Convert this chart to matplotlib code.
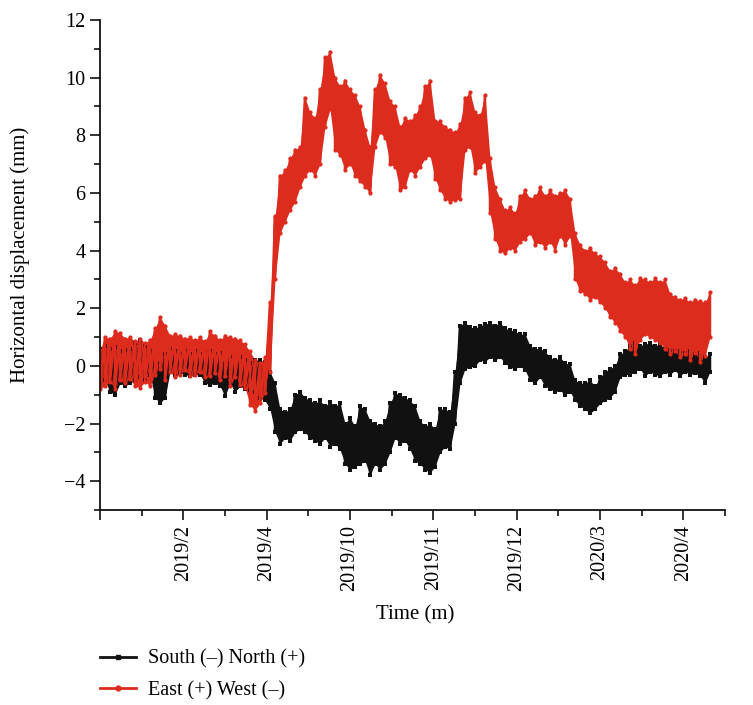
import numpy as np
import matplotlib
matplotlib.use("Agg")
import matplotlib.pyplot as plt
from matplotlib.lines import Line2D
from matplotlib.ticker import MultipleLocator

plt.rcParams['font.family'] = ['Liberation Serif', 'DejaVu Serif']

# Month axis: one unit per labelled month tick
tick_positions = [0, 1, 2, 3, 4, 5, 6, 7]
tick_labels = ['', '2019/2', '2019/4', '2019/10', '2019/11', '2019/12', '2020/3', '2020/4']

# Daily readings (upper / lower of each day's swing), mm
sn_high = [0.6, 0.7, 0.6, 0.65, 0.5, 0.55, 0.6, 0.8, 0.9, 0.7, 0.5, 0.2, 0.1, 0.4, 0.6, 0.5,
           0.4, 0.5, 0.4, 0.5, 0.4, 0.45, 0.5, 0.4, 0.45, 0.1, 0.3, 0.2, 0.3, 0.2, 0.1, 0.2,
           0.2, 0.15, -0.2, -0.6, -1.5, -1.6, -1.5, -1.0, -0.9, -1.1, -1.2, -1.3, -1.2, -1.4,
           -1.25, -1.4, -1.3, -2.0, -1.8, -2.1, -1.4, -1.5, -1.9, -2.0, -2.1, -1.9, -1.3, -0.95,
           -1.0, -1.1, -1.2, -1.4, -1.9, -2.1, -2.0, -2.2, -1.5, -1.5, -1.6, -0.2, 1.4, 1.5,
           1.35, 1.3, 1.4, 1.45, 1.5, 1.4, 1.5, 1.3, 1.25, 1.2, 1.1, 1.1, 0.7, 0.6, 0.6, 0.5,
           0.3, 0.2, 0.3, 0.1, 0.05, -0.5, -0.6, -0.6, -0.5, -0.7, -0.4, -0.2, -0.1, 0.0, 0.4,
           0.5, 0.7, 0.8, 0.7, 0.75, 0.8, 0.7, 0.75, 0.6, 0.55, 0.5, 0.5, 0.45, 0.5, 0.4, 0.45,
           0.3, 0.4]
sn_low = [-0.6, -0.5, -0.9, -1.0, -0.6, -0.7, -0.6, -0.5, -0.4, -0.5, -0.3, -1.1, -1.3, -1.1,
          -0.2, -0.3, -0.25, -0.3, -0.35, -0.3, -0.3, -0.6, -0.65, -0.6, -0.7, -1.05, -0.6,
          -0.9, -0.7, -0.8, -0.85, -0.9, -1.1, -1.2, -1.5, -2.3, -2.7, -2.5, -2.6, -2.3, -2.2,
          -2.3, -2.5, -2.6, -2.7, -2.5, -2.8, -2.7, -2.9, -3.4, -3.6, -3.5, -3.4, -3.3, -3.8,
          -3.4, -3.6, -3.4, -3.0, -2.5, -2.7, -2.6, -2.9, -3.3, -3.4, -3.6, -3.7, -3.5, -3.0,
          -2.8, -2.9, -2.0, -0.6, -0.1, -0.05, 0.0, 0.2, 0.15, 0.3, 0.2, 0.3, 0.1, -0.05, -0.1,
          0.0, -0.15, -0.5, -0.6, -0.4, -0.7, -0.8, -0.9, -0.85, -1.0, -0.9, -1.2, -1.4, -1.5,
          -1.65, -1.5, -1.3, -1.2, -1.1, -0.9, -0.4, -0.3, -0.3, -0.2, -0.1, -0.35, -0.2, -0.3,
          -0.35, -0.2, -0.3, -0.15, -0.35, -0.2, -0.3, -0.25, -0.35, -0.6, -0.2]

ew_high = [0.55, 1.0, 0.95, 1.2, 1.15, 0.95, 1.0, 0.85, 0.95, 0.8, 0.9, 1.3, 1.7, 1.4, 1.05,
           1.1, 1.05, 0.95, 1.0, 0.9, 1.0, 0.85, 1.2, 1.05, 0.9, 1.05, 1.0, 0.95, 0.9, 0.75,
           0.5, 0.2, 0.1, 0.3, 2.2, 5.2, 6.6, 6.8, 7.2, 7.5, 7.6, 9.3, 8.8, 8.6, 9.6, 10.7,
           10.9, 10.0, 9.7, 9.9, 9.6, 9.4, 9.0, 8.2, 7.6, 9.6, 10.1, 9.8, 9.2, 9.0, 8.3, 8.6,
           8.5, 8.7, 9.0, 9.7, 9.9, 8.5, 8.5, 8.3, 8.2, 8.1, 8.4, 9.3, 9.5, 8.8, 8.7, 9.4, 7.2,
           6.2, 5.8, 5.4, 5.5, 5.3, 5.9, 6.1, 5.8, 5.9, 6.2, 5.9, 6.1, 5.9, 6.0, 6.1, 5.8, 4.6,
           4.2, 4.0, 4.1, 3.9, 3.8, 3.6, 3.3, 3.4, 3.2, 2.9, 3.0, 2.8, 3.05, 3.0, 2.9, 3.05,
           2.9, 3.0, 2.5, 2.4, 2.3, 2.35, 2.2, 2.3, 2.25, 2.2, 2.55]
ew_low = [-0.8, -0.7, -0.55, -0.8, -0.5, -0.6, -0.45, -0.7, -0.75, -0.55, -0.7, -0.3, -0.1,
          -0.5, -0.2, -0.4, -0.3, -0.15, -0.35, -0.3, -0.2, -0.4, -0.35, -0.25, -0.5, -0.35,
          -0.7, -0.4, -0.65, -0.75, -1.35, -1.55, -1.3, -0.95, -0.2, 3.0, 4.6, 5.0, 5.4, 5.7,
          6.2, 6.6, 6.8, 6.6, 7.0, 8.3, 8.9, 7.5, 7.3, 6.8, 7.0, 6.6, 6.4, 6.2, 6.0, 7.6, 8.1,
          7.9, 7.0, 6.9, 6.1, 6.2, 6.8, 6.6, 6.9, 7.2, 7.3, 6.5, 6.1, 5.8, 5.7, 5.75, 5.8, 7.5,
          7.6, 6.7, 6.9, 7.1, 5.3, 4.4, 4.0, 3.9, 4.1, 4.0, 4.3, 4.4, 4.6, 4.2, 4.3, 4.1, 4.3,
          4.0, 4.5, 4.2, 4.5, 3.0, 2.6, 2.5, 2.3, 2.4, 2.2, 2.0, 1.7, 1.5, 1.2, 1.0, 0.6, 0.4,
          0.9, 1.1, 1.0, 0.9, 0.8, 0.6, 0.4, 0.5, 0.3, 0.4, 0.2, 0.45, 0.15, 0.35, 1.0]

n_days = len(ew_high)
t = np.linspace(0.0, 7.32, n_days)

black = '#111111'
red = '#dd2c1e'

fig = plt.figure(figsize=(7.53, 7.05), dpi=100)
ax = fig.add_axes([100 / 753, 1 - 510 / 705, 625 / 753, 490 / 705])


def swing(hi, lo):
    xs = np.repeat(t, 2)
    ys = np.empty(2 * n_days)
    ys[0::2] = hi
    ys[1::2] = lo
    return xs, ys


for hi, lo, col, mk in [(sn_high, sn_low, black, 's'), (ew_high, ew_low, red, 'o')]:
    ax.fill_between(t, lo, hi, color=col, lw=0)
    xs, ys = swing(hi, lo)
    ax.plot(xs, ys, color=col, lw=1.8, marker=mk, ms=3.0, mew=0)

ax.set_xlim(0, 7.5)
ax.set_ylim(-5, 12)
ax.set_xticks(tick_positions)
ax.set_xticklabels(tick_labels, rotation=90, fontsize=14.5)
ax.xaxis.set_minor_locator(MultipleLocator(0.5))
ax.yaxis.set_minor_locator(MultipleLocator(1))
ax.set_yticks(np.arange(-4, 13, 2))
ax.tick_params(axis='y', labelsize=14.5)
ax.tick_params(which='major', direction='out', length=7, width=1.2, color='#111111')
ax.tick_params(which='minor', direction='out', length=4, width=1.2, color='#111111')
for side in ('top', 'right'):
    ax.spines[side].set_visible(False)
for side in ('left', 'bottom'):
    ax.spines[side].set_linewidth(1.3)
    ax.spines[side].set_color('#111111')

fig.text(20 / 753, 1 - 255 / 705, 'Horizontal displacement (mm)', rotation=90,
         ha='center', va='center', fontsize=15)
fig.text(415 / 753, 1 - 615 / 705, 'Time (m)', ha='center', va='center', fontsize=15)

handles = [
    Line2D([], [], color=black, lw=2, marker='s', ms=3.5),
    Line2D([], [], color=red, lw=2, marker='o', ms=3.5),
]
fig.legend(handles, ['South (\u2013) North (+)', 'East (+) West (\u2013)'],
           loc='center left', bbox_to_anchor=(82 / 753, 1 - 675 / 705), frameon=False,
           fontsize=14.5, handlelength=1.8, handletextpad=0.6, labelspacing=0.6)

fig.savefig('out.png', dpi=100)
